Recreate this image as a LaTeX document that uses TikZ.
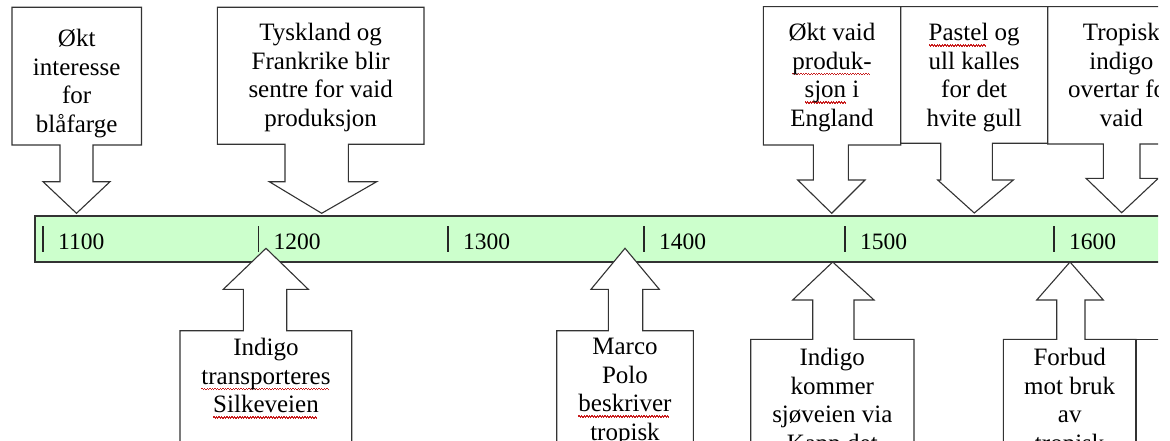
\documentclass[tikz,border=0pt]{standalone}
\usepackage{fontspec}
\setmainfont{Liberation Serif}
\definecolor{tidgronn}{RGB}{204,255,204}
\definecolor{feilrod}{RGB}{200,30,30}
\newsavebox\feilboks
\newcommand\stavefeil[1]{\sbox\feilboks{#1}\rlap{\textcolor{feilrod}{\leaders\hbox{\vrule height -3.2pt depth 4.6pt width 1.3pt\vrule height -4.2pt depth 5.6pt width 1.3pt}\hskip\wd\feilboks}}\usebox\feilboks}

\begin{document}
\begin{tikzpicture}[x=1pt,y=-1pt,
  boks/.style={draw=black!80, fill=white, line width=1.1pt},
  tekst/.style={anchor=north, inner sep=0pt, align=center, execute at begin node=\strut,
    font=\fontsize{25}{28.5}\selectfont},
  aarstall/.style={anchor=base west, inner sep=0pt, font=\fontsize{23.5}{28}\selectfont}]
\useasboundingbox (0,0) rectangle (1170,441);
\clip (0,0) rectangle (1158,441);

\draw [line width=1.1pt, draw=black!80, fill=tidgronn] (35,216) rectangle (1180,262);
\foreach \x/\yr in {43/1100,258.3/1200,448/1300,644/1400,845/1500,1054/1600}{
  \draw [line width=1.2pt, black!85] (\x,226)--(\x,251.7);
  \node [aarstall] (a\yr) at (\x+15,249) {\yr};
}

\draw [boks] (12,7.3)--(141.5,7.3)--(141.5,145)--(93,145)--(93,181.7)--(110,181.7)--(76.5,213.3)
  --(43,181.7)--(60,181.7)--(60,145)--(12,145)--cycle;
\draw [boks] (217.3,7.3)--(424,7.3)--(424,144.3)--(348.3,144.3)--(348.3,181.7)--(376.7,181.7)--(321.7,213.3)
  --(269.3,181.7)--(285,181.7)--(285,144.3)--(217.3,144.3)--cycle;
\draw [boks] (763.3,6.7)--(900.7,6.7)--(900.7,145)--(848.3,145)--(848.3,180)--(865,180)--(831.7,213.3)
  --(797.7,180)--(813.3,180)--(813.3,145)--(763.3,145)--cycle;
\draw [boks] (900.7,6.7)--(1047.7,6.7)--(1047.7,143.3)--(992.3,143.3)--(992.3,180)--(1013.3,180)--(974.3,213)
  --(937.7,180)--(940.7,180)--(940.7,143.3)--(900.7,143.3)--cycle;
\draw [boks] (1047.7,6.7)--(1195,6.7)--(1195,144)--(1140,144)--(1140,178.3)--(1158.3,178.3)--(1121.7,212.7)
  --(1086,178.3)--(1103.3,178.3)--(1103.3,144)--(1047.7,144)--cycle;

\draw [boks] (180,460)--(180,330.7)--(243.3,330.7)--(243.3,289.3)--(223.3,289.3)--(266,248.3)
  --(308.3,289.3)--(286.7,289.3)--(286.7,330.7)--(351.7,330.7)--(351.7,460)--cycle;
\draw [boks] (556.7,460)--(556.7,330.7)--(608.3,330.7)--(608.3,289.3)--(591,289.3)--(625,248.3)
  --(659.3,289.3)--(642.7,289.3)--(642.7,330.7)--(693.3,330.7)--(693.3,460)--cycle;
\draw [boks] (750.7,460)--(750.7,339.3)--(812.7,339.3)--(812.7,300)--(792.7,300)--(832.7,262)
  --(874,300)--(854,300)--(854,339.3)--(914,339.3)--(914,460)--cycle;
\draw [boks] (1003.3,460)--(1003.3,339.3)--(1056.7,339.3)--(1056.7,300)--(1036.7,300)--(1070,262)
  --(1103.3,300)--(1085,300)--(1085,339.3)--(1136,339.3)--(1136,460)--cycle;
\draw [boks] (1136,460)--(1136,339.3)--(1250,339.3)--(1250,460)--cycle;

\node [tekst] (blaafarge) at (76.7,29) {Økt\\interesse\\for\\blåfarge};
\node [tekst] (tyskland) at (320.7,23.4) {Tyskland og\\Frankrike blir\\sentre for vaid\\produksjon};
\node [tekst] (england) at (832,23.4) {Økt vaid\\\stavefeil{produk-}\\\stavefeil{sjon} i\\England};
\node [tekst] (pastel) at (974.2,23.4) {\stavefeil{Pastel} og\\ull kalles\\for det\\hvite gull};
\node [tekst] (tropisk) at (1121.3,23.4) {Tropisk\\indigo\\overtar for\\vaid};

\node [tekst] (silkeveien) at (266,338.4) {Indigo\\\stavefeil{transporteres}\\\stavefeil{Silkeveien}};
\node [tekst] (marcopolo) at (625,338.4) {Marco\\Polo\\\stavefeil{beskriver}\\tropisk};
\node [tekst] (sjoeveien) at (832.3,348.4) {Indigo\\kommer\\sjøveien via\\Kapp det};
\node [tekst] (forbud) at (1069.7,348.4) {Forbud\\mot bruk\\av\\tropisk};

\end{tikzpicture}
\end{document}
